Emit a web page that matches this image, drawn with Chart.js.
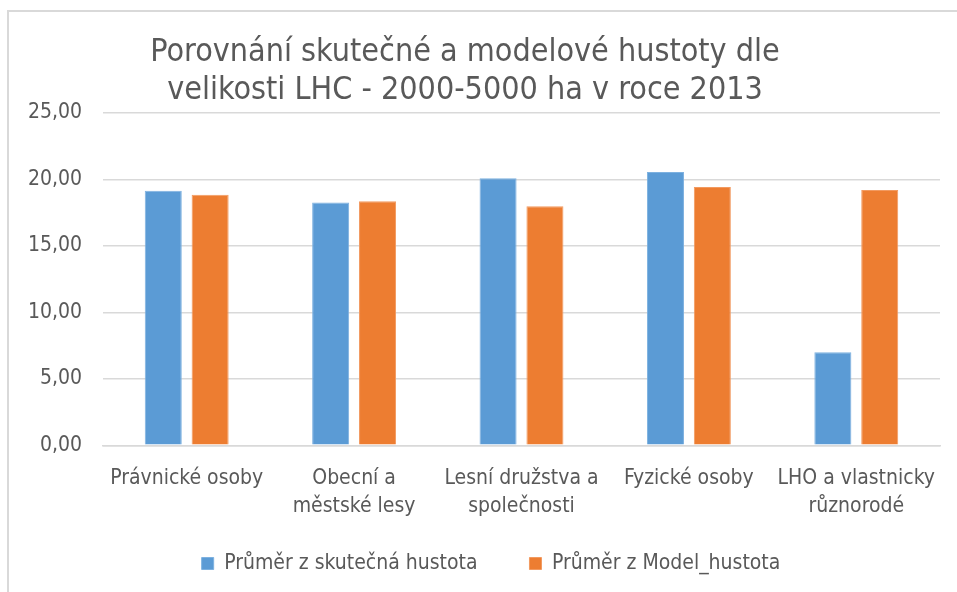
<!DOCTYPE html>
<html>
<head>
<meta charset="utf-8">
<script src="https://cdn.jsdelivr.net/npm/chart.js@4"></script>
<style>
  html, body { margin: 0; padding: 0; background: #fff; }
  #wrap { position: relative; width: 957px; height: 592px; }
</style>
</head>
<body>
<div id="wrap"><canvas id="chart"></canvas></div>
<script>
// data
const categories = [
  'Právnické osoby',
  ['Obecní a', 'městské lesy'],
  ['Lesní družstva a', 'společnosti'],
  'Fyzické osoby',
  ['LHO a vlastnicky', 'různorodé']
];
const skutecnaHustota = [19.13, 18.25, 20.08, 20.55, 7.0];
const modelHustota = [18.83, 18.35, 17.97, 19.43, 19.2];
const yTicks = [0, 5, 10, 15, 20, 25];

const FONT = "'Liberation Sans Narrow', 'DejaVu Sans Condensed', Lato, sans-serif";
const TEXT = '#595959';
const GRID = '#d9d9d9';

const fmtComma = v => Number(v).toFixed(2).replace('.', ',');

// light grey frame round the chart, like the Excel chart box
const framePlugin = {
  id: 'frame',
  afterLayout(chart) {
    // Excel puts the legend a bit right of the title centre and closer to the labels
    const lg = chart.legend;
    lg.left += 26;
    lg.right += 26;
    lg.top -= 31;
    lg.bottom -= 31;
  },
  beforeDraw(chart) {
    const c = chart.ctx;
    c.save();
    c.strokeStyle = GRID;
    c.lineWidth = 2;
    c.beginPath();
    c.moveTo(8, chart.height);
    c.lineTo(8, 11);
    c.lineTo(chart.width, 11);
    c.stroke();
    c.restore();
  }
};

new Chart(document.getElementById('chart'), {
  type: 'bar',
  data: {
    labels: categories,
    datasets: [{
      label: 'Průměr z skutečná hustota',
      data: skutecnaHustota,
      backgroundColor: '#5B9BD5',
      borderColor: '#7DB1E0',
      borderWidth: 1,
      categoryPercentage: 0.56,
      barPercentage: 0.79
    }, {
      label: 'Průměr z Model_hustota',
      data: modelHustota,
      backgroundColor: '#ED7D31',
      borderColor: '#F29A60',
      borderWidth: 1,
      categoryPercentage: 0.56,
      barPercentage: 0.79
    }]
  },
  options: {
    responsive: true,
    maintainAspectRatio: false,
    animation: false,
    layout: { padding: { left: -10, right: 17, top: 33, bottom: -23 } },
    plugins: {
      title: {
        display: true,
        text: ['Porovnání skutečné a modelové hustoty dle', 'velikosti LHC - 2000-5000 ha v roce 2013'],
        color: TEXT,
        font: { family: FONT, size: 32, weight: 'normal' },
        lineHeight: 1.1,
        padding: { top: 0, bottom: 3 }
      },
      legend: {
        position: 'bottom',
        labels: {
          color: TEXT,
          font: { family: FONT, size: 21 },
          boxWidth: 12,
          boxHeight: 12,
          padding: 52
        }
      },
      tooltip: { enabled: false }
    },
    scales: {
      x: {
        grid: { display: false },
        border: { color: GRID, width: 1.5 },
        ticks: {
          color: TEXT,
          font: { family: FONT, size: 21, lineHeight: 1.35 },
          maxRotation: 0,
          autoSkip: false,
          padding: 11
        }
      },
      y: {
        min: 0,
        max: 25,
        afterBuildTicks: axis => { axis.ticks = yTicks.map(v => ({ value: v })); },
        afterFit: axis => { axis.width = 113; },
        grid: { color: GRID, lineWidth: 1.5, drawTicks: false },
        border: { display: false },
        ticks: {
          color: TEXT,
          font: { family: FONT, size: 21 },
          padding: 21,
          callback: v => fmtComma(v)
        }
      }
    }
  },
  plugins: [framePlugin]
});
</script>
</body>
</html>
